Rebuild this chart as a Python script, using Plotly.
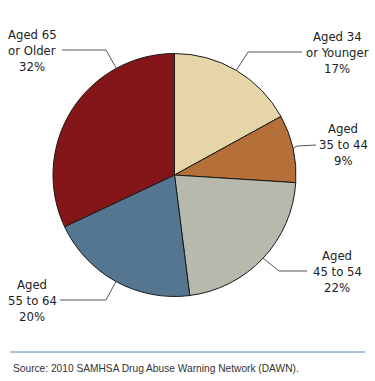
import math
import plotly.graph_objects as go

# ---- data ----
categories = ["Aged 34 or Younger", "Aged 35 to 44", "Aged 45 to 54", "Aged 55 to 64", "Aged 65 or Older"]
label_lines = [["Aged 34", "or Younger"], ["Aged", "35 to 44"], ["Aged", "45 to 54"], ["Aged", "55 to 64"], ["Aged 65", "or Older"]]
values = [17, 9, 22, 20, 32]
colors = ["#E6D5A8", "#B5703A", "#B7B9AC", "#557690", "#84161A"]
source_text = "Source: 2010 SAMHSA Drug Abuse Warning Network (DAWN)."

W, H = 375, 381
CX, CY, R = 174.5, 175.0, 121.5
LABEL_FONT = "DejaVu Sans Condensed, Liberation Sans Narrow, Arial Narrow, sans-serif"

def p(x, y):
    return x / W, 1 - y / H

fig = go.Figure()
fig.add_trace(go.Pie(
    labels=categories, values=values, sort=False, direction="clockwise", rotation=0,
    marker=dict(colors=colors, line=dict(color="#1a1a1a", width=1)),
    textinfo="none", hoverinfo="label+percent", showlegend=False,
    domain=dict(x=[(CX - R) / W, (CX + R) / W], y=[1 - (CY + R) / H, 1 - (CY - R) / H]),
))

# label layout: angle offset (deg) from slice middle, elbow px, line end px, label center px
layout_spec = [
    (0, (248, 52), (302, 52), (337, 52)),
    (0, (297, 146), (316, 145), (343, 144)),
    (0, (279, 271), (307, 271), (337, 271)),
    (0, (106, 300), (60, 300), (32, 300)),
    (29, (106, 50), (62, 50), (32, 50)),
]

total = sum(values)
cum = 0
annotations = []
shapes = []
for i, v in enumerate(values):
    mid = (cum + v / 2) / total * 360
    cum += v
    off, elbow, end, lab = layout_spec[i]
    a = math.radians(mid + off)
    sx, sy = CX + R * math.sin(a), CY - R * math.cos(a)
    x0, y0 = p(sx, sy)
    x1, y1 = p(*elbow)
    x2, y2 = p(*end)
    shapes.append(dict(type="path", xref="paper", yref="paper",
                       path=f"M {x0},{y0} L {x1},{y1} L {x2},{y2}",
                       line=dict(color="#555555", width=1)))
    lines = label_lines[i] + [f"{round(v / total * 100)}%"]
    lx, ly = lab
    for k, t in enumerate(lines):
        ax, ay = p(lx, ly + (k - 1) * 16)
        annotations.append(dict(x=ax, y=ay, xref="paper", yref="paper", text=t, showarrow=False,
                                xanchor="center", yanchor="middle", align="center",
                                font=dict(family=LABEL_FONT, size=13, color="#222222")))

# source rule and text
sx0, sy0 = p(10, 352)
sx1, _ = p(365, 352)
shapes.append(dict(type="line", xref="paper", yref="paper", x0=sx0, x1=sx1, y0=sy0, y1=sy0,
                   line=dict(color="#5B84AA", width=1)))
tx, ty = p(11, 368)
annotations.append(dict(x=tx, y=ty, xref="paper", yref="paper", text=source_text, showarrow=False,
                        xanchor="left", yanchor="middle",
                        font=dict(family="Liberation Sans, Arial, sans-serif", size=10.2, color="#333333")))

fig.update_layout(width=W, height=H, margin=dict(l=0, r=0, t=0, b=0),
                  paper_bgcolor="white", plot_bgcolor="white",
                  annotations=annotations, shapes=shapes)
fig.write_html("out.html", config={"displayModeBar": False},
               post_script="document.body.style.margin='0';document.body.style.overflow='hidden';")
